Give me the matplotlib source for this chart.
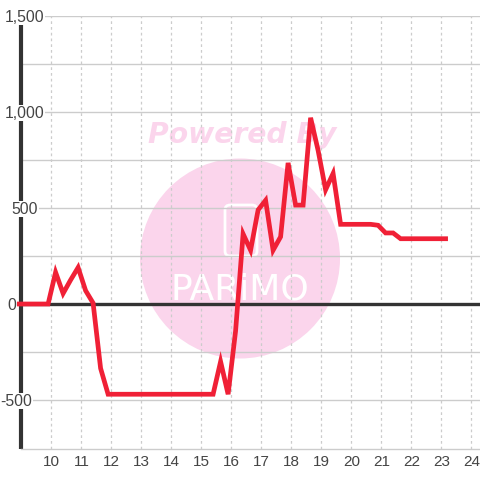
import matplotlib
matplotlib.use("Agg")
import matplotlib.pyplot as plt
from matplotlib.patches import Circle, FancyBboxPatch
from matplotlib.transforms import blended_transform_factory, ScaledTranslation

hours = [8.92, 9.92, 10.17, 10.42, 10.67, 10.92, 11.17, 11.42, 11.67, 11.92, 12.17, 12.42, 12.67, 12.92,
         13.17, 13.42, 13.67, 13.92, 14.17, 14.42, 14.67, 14.92, 15.17, 15.42, 15.67, 15.92, 16.17, 16.42,
         16.67, 16.92, 17.17, 17.42, 17.67, 17.92, 18.17, 18.42, 18.67, 18.92, 19.17, 19.42, 19.67, 19.92,
         20.17, 20.42, 20.67, 20.92, 21.17, 21.42, 21.67, 21.92, 22.17, 22.42, 22.67, 22.92, 23.17]
values = [0, 0, 165, 55, 125, 190, 70, 5, -335, -470, -470, -470, -470, -470,
          -470, -470, -470, -470, -470, -470, -470, -470, -470, -470, -300, -470, -140, 365,
          280, 490, 540, 280, 350, 735, 515, 515, 970, 800, 595, 680, 415, 415,
          415, 415, 415, 410, 370, 370, 340, 340, 340, 340, 340, 340, 340]
x_ticks = list(range(10, 25))
y_ticks = [-500, 0, 500, 1000, 1500]
y_labels = ["-500", "0", "500", "1,000", "1,500"]
y_label_centers = [16.5, 12, 25, 25, 25]

plt.rcParams["font.family"] = ["Liberation Sans", "DejaVu Sans"]
fig = plt.figure(figsize=(4.8, 4.8), dpi=100, facecolor="white")
W = 480.0
L, R, T, B = 20.5, 480.0, 16.0, 448.5
ax = fig.add_axes([L / W, 1 - B / W, (R - L) / W, (B - T) / W])
ax.set_xlim(9, 9 + (R - L) / 30.0)
ax.set_ylim(-(B - 304) / 0.192, 1500)
ax.patch.set_alpha(0)
ax.set_axisbelow(True)

# watermark behind the axes
pink = "#fbd5ec"
fig.add_artist(Circle((240 / W, 1 - 258.5 / W), 100 / W, color=pink, lw=0, zorder=-5))
fig.text(242 / W, 1 - 135 / W, "Powered By", color=pink, fontsize=20.3, fontweight="bold",
         style="italic", family="DejaVu Sans", ha="center", va="center", zorder=-4)
fig.text(240 / W, 1 - 289 / W, "PARiMO", color="white", fontsize=26, family="DejaVu Sans",
         ha="center", va="center", zorder=-4)
fig.add_artist(FancyBboxPatch((225 / W, 1 - 256 / W), 32 / W, 51 / W,
                              boxstyle=f"round,pad=0,rounding_size={5 / W}",
                              fc="none", ec="white", lw=2, zorder=-4))

ax.set_xticks(x_ticks)
ax.set_yticks(y_ticks)
ax.set_yticks([-250, 250, 750, 1250], minor=True)
ax.grid(True, axis="y", which="both", color="#cccccc", lw=1)
ax.grid(True, axis="x", color="#cccccc", lw=0.9, ls=(0, (2.2, 2.4)))
ax.tick_params(axis="both", which="both", length=0)
ax.tick_params(axis="x", labelsize=11, labelcolor="#444444", pad=5)
shift = ScaledTranslation(1 / 100, 0, fig.dpi_scale_trans)
for t in ax.get_xticklabels():
    t.set_transform(t.get_transform() + shift)
ax.set_yticklabels([])
for s in ("top", "right"):
    ax.spines[s].set_visible(False)
ax.spines["bottom"].set_color("#cccccc")
ax.spines["bottom"].set_linewidth(1)
ax.spines["left"].set_color("#333333")
ax.spines["left"].set_linewidth(3)
ax.spines["left"].set_capstyle("butt")
ax.axhline(0, color="#333333", lw=2.4, zorder=2)

ax.plot(hours, values, color="#f02036", lw=3.4, solid_joinstyle="miter", clip_on=False, zorder=3)

trans = blended_transform_factory(fig.transFigure, ax.transData) + ScaledTranslation(0, -1 / 100, fig.dpi_scale_trans)
for v, lab, cx in zip(y_ticks, y_labels, y_label_centers):
    ax.text(cx / W, v, lab, transform=trans, ha="center", va="center", fontsize=11.3,
            color="#444444", zorder=5, clip_on=False, bbox=dict(fc="white", ec="none", pad=0.3))

fig.savefig("out.png", dpi=100)
